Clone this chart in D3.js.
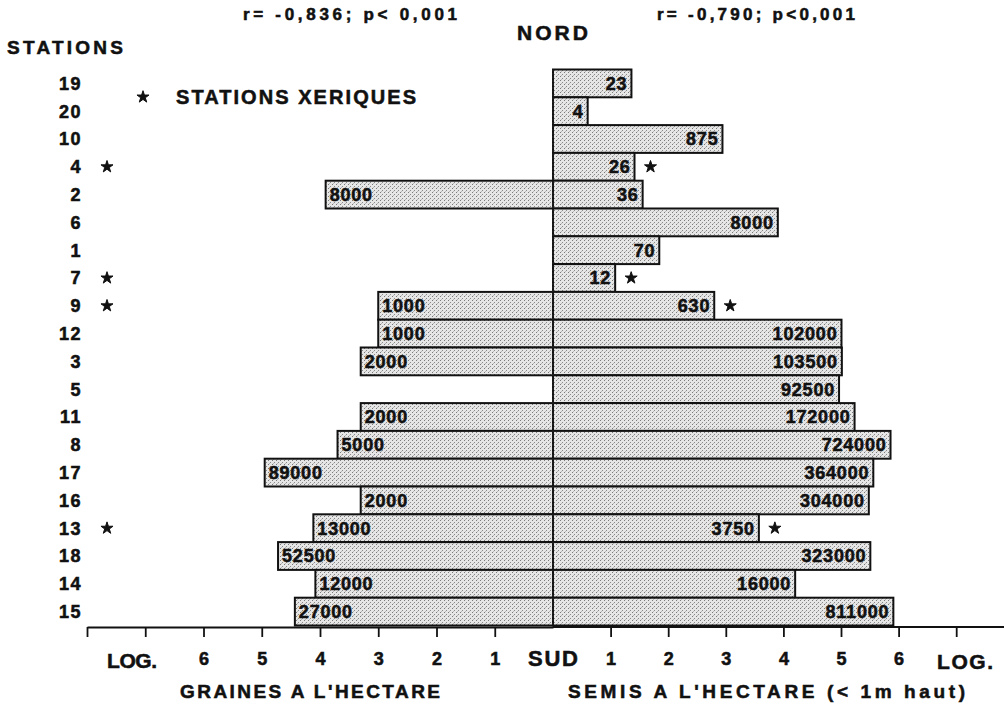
<!DOCTYPE html>
<html><head><meta charset="utf-8">
<script src="https://cdn.jsdelivr.net/npm/d3@7"></script>
<style>
body{margin:0;background:#fff;}
svg text{font-family:"Liberation Sans",Arial,sans-serif;font-weight:bold;fill:#111;stroke:#111;stroke-width:0.55px;}
</style></head>
<body><svg id="c" width="1004" height="705"></svg>
<script>
// ---- data ----
const stations = ["19","20","10","4","2","6","1","7","9","12","3","5","11","8","17","16","13","18","14","15"];
const xeriques = ["4","7","9","13"];
const graines = [null,null,null,null,8000,null,null,null,1000,1000,2000,null,2000,5000,89000,2000,13000,52500,12000,27000];
const semis = [23,4,875,26,36,8000,70,12,630,102000,103500,92500,172000,724000,364000,304000,3750,323000,16000,811000];
const leftTicks = [1,2,3,4,5,6,7,8];
const rightTicks = [1,2,3,4,5,6,7];
const tickLabels = ["1","2","3","4","5","6"];

const svg = d3.select("#c");
const cx = 553;
const xL = d3.scaleLinear().domain([0,8]).range([cx, 87]);
const xR = d3.scaleLinear().domain([0,8]).range([cx, cx+8*57.6]);
const y = d3.scaleBand().domain(stations).range([69.5, 625.5]).padding(0);

// stipple pattern
const defs = svg.append("defs");
const pat = defs.append("pattern").attr("id","dots").attr("patternUnits","userSpaceOnUse")
  .attr("width",4).attr("height",4);
pat.append("rect").attr("width",4).attr("height",4).attr("fill","#e6e6e6");
pat.append("rect").attr("x",0).attr("y",0).attr("width",1).attr("height",1).attr("fill","#7a7a7a");
pat.append("rect").attr("x",2).attr("y",2).attr("width",1).attr("height",1).attr("fill","#8a8a8a");
pat.append("rect").attr("x",1).attr("y",3).attr("width",1).attr("height",1).attr("fill","#b8b8b8");

const rows = stations.map((s,i)=>({s, g:graines[i], m:semis[i]}));

// left bars
svg.append("g").selectAll("rect").data(rows.filter(d=>d.g!=null)).join("rect")
  .attr("x", d=>xL(Math.log10(d.g))).attr("y", d=>y(d.s))
  .attr("width", d=>cx - xL(Math.log10(d.g))).attr("height", y.bandwidth())
  .attr("fill","url(#dots)").attr("stroke","#111").attr("stroke-width",2);
// right bars
svg.append("g").selectAll("rect").data(rows).join("rect")
  .attr("x", cx).attr("y", d=>y(d.s))
  .attr("width", d=>xR(Math.log10(d.m)) - cx).attr("height", y.bandwidth())
  .attr("fill","url(#dots)").attr("stroke","#111").attr("stroke-width",2);

// center line
svg.append("line").attr("x1",cx).attr("x2",cx).attr("y1",y.range()[0]).attr("y2",y.range()[1])
  .attr("stroke","#222").attr("stroke-width",1.4).attr("stroke-dasharray","2,1.5");

// bar labels
svg.append("g").selectAll("text").data(rows.filter(d=>d.g!=null)).join("text")
  .attr("x", d=>xL(Math.log10(d.g))+4).attr("y", d=>y(d.s)+y.bandwidth()/2).attr("dy","0.36em")
  .attr("font-size",18).attr("letter-spacing",0.8).text(d=>d.g);
svg.append("g").selectAll("text").data(rows).join("text")
  .attr("x", d=>xR(Math.log10(d.m))-4).attr("y", d=>y(d.s)+y.bandwidth()/2).attr("dy","0.36em")
  .attr("text-anchor","end").attr("font-size",18).attr("letter-spacing",0.8).text(d=>d.m);

// station labels
svg.append("g").selectAll("text").data(stations).join("text")
  .attr("x",82).attr("y",d=>y(d)+y.bandwidth()/2).attr("dy","0.36em")
  .attr("text-anchor","end").attr("font-size",18).attr("letter-spacing",1.5).text(d=>d);

const star = d3.symbol().type(d3.symbolStar).size(45);
// left stars
svg.append("g").selectAll("path").data(xeriques).join("path")
  .attr("d",star).attr("fill","#111").attr("stroke","#111").attr("stroke-width",1)
  .attr("transform",d=>`translate(107,${y(d)+y.bandwidth()/2})`);
// right stars
svg.append("g").selectAll("path").data(rows.filter(d=>xeriques.includes(d.s))).join("path")
  .attr("d",star).attr("fill","#111").attr("stroke","#111").attr("stroke-width",1)
  .attr("transform",d=>`translate(${xR(Math.log10(d.m))+16},${y(d.s)+y.bandwidth()/2})`);

// legend
svg.append("path").attr("d",star).attr("fill","#111").attr("stroke","#111").attr("stroke-width",1)
  .attr("transform","translate(143,97)");
svg.append("text").attr("x",176).attr("y",104).attr("font-size",20)
  .attr("textLength",240).attr("lengthAdjust","spacing").text("STATIONS XERIQUES");

// headings
svg.append("text").attr("x",7).attr("y",54).attr("font-size",19)
  .attr("textLength",116).attr("lengthAdjust","spacing").text("STATIONS");
svg.append("text").attr("x",517).attr("y",40).attr("font-size",21)
  .attr("textLength",71).attr("lengthAdjust","spacing").text("NORD");
svg.append("text").attr("x",243).attr("y",20).attr("font-size",17)
  .attr("textLength",214).attr("lengthAdjust","spacing").text("r= -0,836; p< 0,001");
svg.append("text").attr("x",657).attr("y",20).attr("font-size",17)
  .attr("textLength",198).attr("lengthAdjust","spacing").text("r= -0,790; p<0,001");

// axes
const axY = 627;
const gl = svg.append("g").attr("transform",`translate(0,${axY})`)
  .call(d3.axisBottom(xL).tickValues(leftTicks).tickSize(10).tickSizeOuter(0).tickPadding(15)
    .tickFormat(d=>tickLabels.includes(String(d))?String(d):""));
const gr = svg.append("g").attr("transform",`translate(0,${axY})`)
  .call(d3.axisBottom(xR).tickValues(rightTicks).tickSize(10).tickSizeOuter(0).tickPadding(15)
    .tickFormat(d=>tickLabels.includes(String(d))?String(d):""));
[gl,gr].forEach(g=>{
  g.select(".domain").attr("stroke","#111").attr("stroke-width",2);
  g.selectAll(".tick line").attr("stroke","#111").attr("stroke-width",1.8);
  g.selectAll(".tick text").attr("font-size",18).attr("fill","#111")
   .attr("font-family","Liberation Sans, Arial, sans-serif").attr("font-weight","bold");
});
gr.select(".domain").attr("d",`M${cx},0H1004`);

svg.append("text").attr("x",107).attr("y",668).attr("font-size",21)
  .attr("textLength",50).attr("lengthAdjust","spacing").text("LOG.");
svg.append("text").attr("x",937).attr("y",669).attr("font-size",21)
  .attr("textLength",56).attr("lengthAdjust","spacing").text("LOG.");
svg.append("text").attr("x",528).attr("y",666).attr("font-size",22)
  .attr("textLength",50).attr("lengthAdjust","spacing").text("SUD");

svg.append("text").attr("x",180).attr("y",698).attr("font-size",19)
  .attr("textLength",260).attr("lengthAdjust","spacing").text("GRAINES A L'HECTARE");
svg.append("text").attr("x",568).attr("y",698).attr("font-size",19)
  .attr("textLength",397).attr("lengthAdjust","spacing").text("SEMIS A L'HECTARE  (< 1m haut)");
</script></body></html>
